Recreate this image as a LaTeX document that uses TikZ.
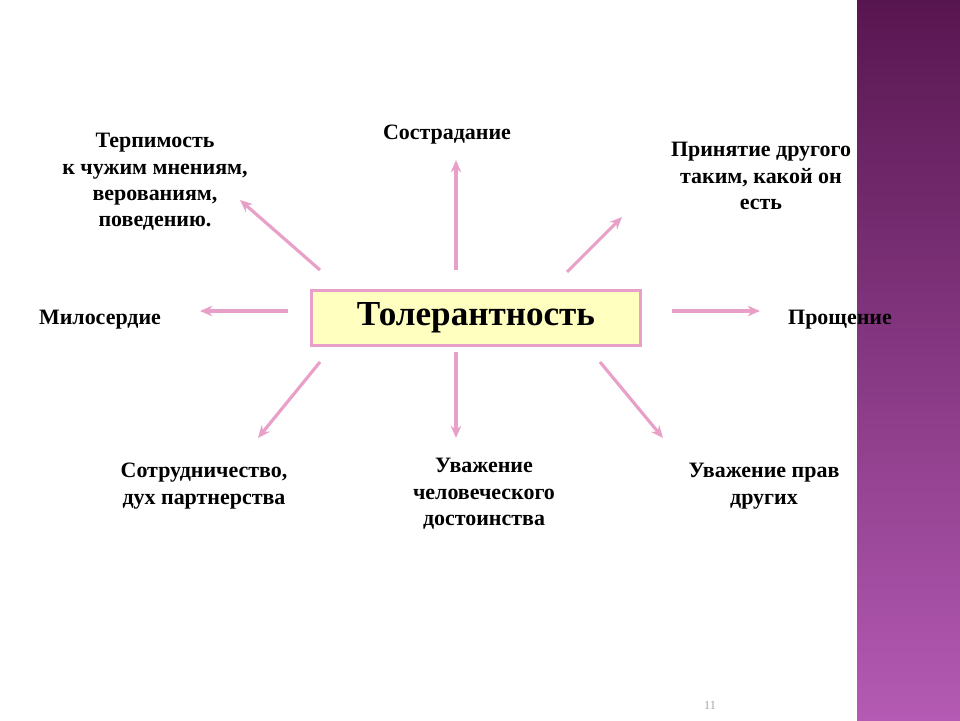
\documentclass[tikz,border=0pt]{standalone}
\usepackage{fontspec}
\setmainfont{Liberation Serif}
\usetikzlibrary{arrows.meta,positioning}
\definecolor{tolpink}{RGB}{232,160,200}
\definecolor{tolyellow}{RGB}{255,255,192}
\definecolor{stripdark}{RGB}{88,22,80}
\definecolor{striplight}{RGB}{180,90,180}

\begin{document}
\begin{tikzpicture}[x=0.02cm, y=-0.02cm,
    label/.style={font=\fontsize{12.5}{15}\selectfont\bfseries, align=center},
    arrow/.style={-{Stealth[length=7pt,width=6pt]}, tolpink, line width=1.8pt}
]
\useasboundingbox (0,0) rectangle (960,720);

% Background strip
\shade[top color=stripdark, bottom color=striplight] (857,0) rectangle (960,720);

% Center
\node[draw=tolpink, line width=1.8pt, fill=tolyellow, minimum width=329*0.02cm,
  minimum height=55*0.02cm, font=\fontsize{20}{24}\selectfont\bfseries] (tol) at (476,318) {Толерантность};

% Labels
\node[label] (terp) at (155,182) {Терпимость\\к чужим мнениям,\\верованиям,\\поведению.};
\node[label] (sostr) at (447,135) {Сострадание};
\node[label] (prin) at (761,176) {Принятие другого\\таким, какой он\\есть};
\node[label] (milo) at (100,320) {Милосердие};
\node[label] (proshch) at (840,320) {Прощение};
\node[label] (sotr) at (204,486) {Сотрудничество,\\дух партнерства};
\node[label] (uvch) at (484,494) {Уважение\\человеческого\\достоинства};
\node[label] (uvpr) at (764,486) {Уважение прав\\других};

% Arrow ends
\coordinate (s1) at (456,270); \coordinate (e1) at (456,160);
\coordinate (s2) at (320,270); \coordinate (e2) at (240,200);
\coordinate (s3) at (567,272); \coordinate (e3) at (622,217);
\coordinate (s4) at (288,311); \coordinate (e4) at (200,311);
\coordinate (s5) at (672,311); \coordinate (e5) at (760,311);
\coordinate (s6) at (320,362); \coordinate (e6) at (258,438);
\coordinate (s7) at (456,352); \coordinate (e7) at (456,438);
\coordinate (s8) at (600,362); \coordinate (e8) at (663,438);

% Arrows
\foreach \i in {1,...,8}
  \draw[arrow] (s\i) -- (e\i);

% Page number
\node[font=\scriptsize, text=gray!70] (page) at (710,705) {11};

\end{tikzpicture}
\end{document}
